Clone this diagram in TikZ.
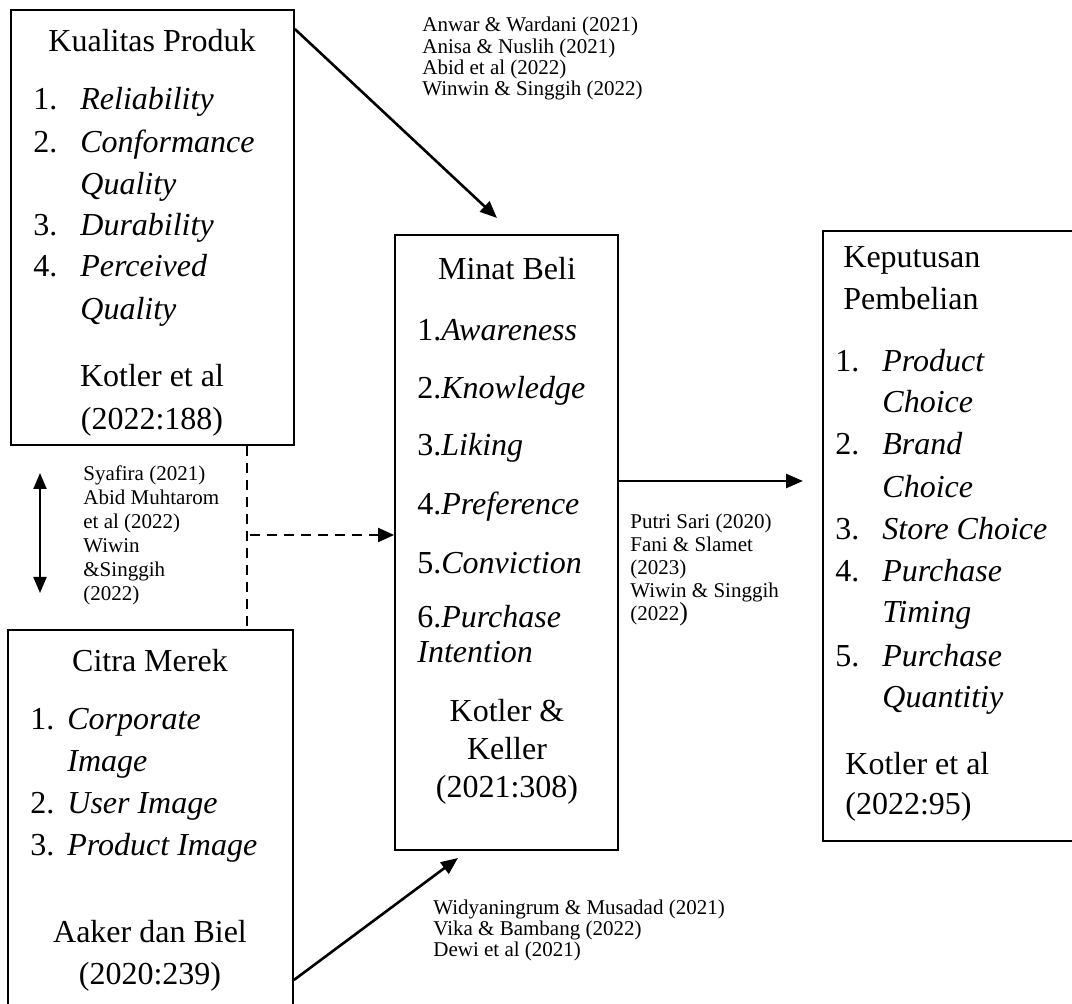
\documentclass[tikz,border=0pt]{standalone}
\usepackage{fontspec}
\setmainfont{Liberation Serif}
\usetikzlibrary{arrows.meta}
\tikzstyle{box}=[draw, line width=0.9pt, inner sep=0pt]
\tikzstyle{teks}=[inner sep=0pt, anchor=base west, font=\fontsize{16}{21}\selectfont]
\tikzstyle{tengah}=[teks, anchor=base]
\tikzstyle{kecil}=[inner sep=0pt, anchor=north west, align=left, font=\fontsize{10.5}{11.5}\selectfont]
\tikzstyle{panah}=[line width=1.3pt, -{Triangle[length=8.5pt,width=7pt]}]
\tikzstyle{putus}=[line width=0.9pt, dash pattern=on 5pt off 3.5pt]
\newcommand{\teks}{\node[teks]}
\newcommand{\no}[1]{\makebox[23.5pt][l]{#1}}

\begin{document}
\begin{tikzpicture}[x=0.5pt, y=-0.5pt]
\useasboundingbox (0,0) rectangle (1072,1004);
\clip (0,0) rectangle (1072,1004);

% kotak variabel
\node[box, minimum width=141.5pt, minimum height=217.5pt] (kp) at (152.5,227.5) {};
\node[box, minimum width=142.5pt, minimum height=205pt] (cm) at (150.5,835) {};
\node[box, minimum width=111.5pt, minimum height=307.5pt] (mb) at (506.5,542.5) {};
\node[box, minimum width=138.5pt, minimum height=305pt] (kb) at (961.5,536) {};

% Kualitas Produk
\node[tengah] (kp0) at (152,52) {Kualitas Produk};
\teks (kp1) at (33,110) {\no{1.}\textit{Reliability}};
\teks (kp2) at (33,153) {\no{2.}\textit{Conformance}};
\teks (kp2b) at (80,195) {\textit{Quality}};
\teks (kp3) at (33,236) {\no{3.}\textit{Durability}};
\teks (kp4) at (33,277) {\no{4.}\textit{Perceived}};
\teks (kp4b) at (80,320) {\textit{Quality}};
\node[tengah] (kp5) at (152,387) {Kotler et al};
\node[tengah] (kp6) at (152,430) {(2022:188)};

% Citra Merek
\node[tengah] (cm0) at (150,672) {Citra Merek};
\teks (cm1) at (30,730) {\makebox[18.5pt][l]{1.}\textit{Corporate}};
\teks (cm1b) at (67,772) {\textit{Image}};
\teks (cm2) at (30,814) {\makebox[18.5pt][l]{2.}\textit{User Image}};
\teks (cm3) at (30,856) {\makebox[18.5pt][l]{3.}\textit{Product Image}};
\node[tengah] (cm4) at (150,943) {Aaker dan Biel};
\node[tengah] (cm5) at (150,985) {(2020:239)};

% Minat Beli
\node[tengah] (mb0) at (507,280) {Minat Beli};
\teks (mb1) at (417,341) {1.\textit{Awareness}};
\teks (mb2) at (417,399) {2.\textit{Knowledge}};
\teks (mb3) at (417,456) {3.\textit{Liking}};
\teks (mb4) at (417,515) {4.\textit{Preference}};
\teks (mb5) at (417,574) {5.\textit{Conviction}};
\teks (mb6) at (417,628) {6.\textit{Purchase}};
\teks (mb6b) at (417,663) {\textit{Intention}};
\node[tengah] (mb7) at (507,722) {Kotler \&};
\node[tengah] (mb8) at (507,760) {Keller};
\node[tengah] (mb9) at (507,798) {(2021:308)};

% Keputusan Pembelian
\teks (kb0) at (843,268) {Keputusan};
\teks (kb0b) at (843,310) {Pembelian};
\teks (kb1) at (835,372) {\no{1.}\textit{Product}};
\teks (kb1b) at (882,413) {\textit{Choice}};
\teks (kb2) at (835,455) {\no{2.}\textit{Brand}};
\teks (kb2b) at (882,498) {\textit{Choice}};
\teks (kb3) at (835,540) {\no{3.}\textit{Store Choice}};
\teks (kb4) at (835,582) {\no{4.}\textit{Purchase}};
\teks (kb4b) at (882,623) {\textit{Timing}};
\teks (kb5) at (835,667) {\no{5.}\textit{Purchase}};
\teks (kb5b) at (882,708) {\textit{Quantitiy}};
\teks (kb6) at (845,775) {Kotler et al};
\teks (kb7) at (845,815) {(2022:95)};

% rujukan
\node[kecil, font=\fontsize{10.5}{9.5}\selectfont] (r1) at (422,17) {Anwar \& Wardani (2021)\\Anisa \& Nuslih (2021)\\Abid et al (2022)\\Winwin \& Singgih (2022)};
\node[kecil, font=\fontsize{10.5}{12}\selectfont] (r2) at (83,465) {Syafira (2021)\\Abid Muhtarom\\et al (2022)\\Wiwin\\\&Singgih\\(2022)};
\node[kecil] (r3) at (630,514) {Putri Sari (2020)\\Fani \& Slamet\\(2023)\\Wiwin \& Singgih\\(2022{\fontsize{13}{11.5}\selectfont)}};
\node[kecil, font=\fontsize{10.5}{10.5}\selectfont] (r4) at (433,900) {Widyaningrum \& Musadad (2021)\\Vika \& Bambang (2022)\\Dewi et al (2021)};

% panah
\coordinate (t1) at (497,218);
\coordinate (t3) at (803,481);
\coordinate (t4) at (458,858);
\coordinate (dv) at (247,535);
\coordinate (da) at (40,473);
\coordinate (db) at (40,593);
\draw[panah] ([yshift=-10pt]kp.north east) -- (t1);
\draw[panah] (mb.east |- t3) -- (t3);
\draw[panah] ([yshift=-72.5pt]cm.east) -- (t4);
\draw[putus] (dv |- kp.south) -- (dv |- cm.north);
\draw[putus, line width=1pt, -{Triangle[length=8pt,width=7pt]}] ([xshift=1.5pt]dv) -- (mb.west |- dv);
\draw[line width=1pt, {Triangle[length=8pt,width=6.5pt]}-{Triangle[length=8pt,width=6.5pt]}] (da) -- (db);
\end{tikzpicture}
\end{document}
